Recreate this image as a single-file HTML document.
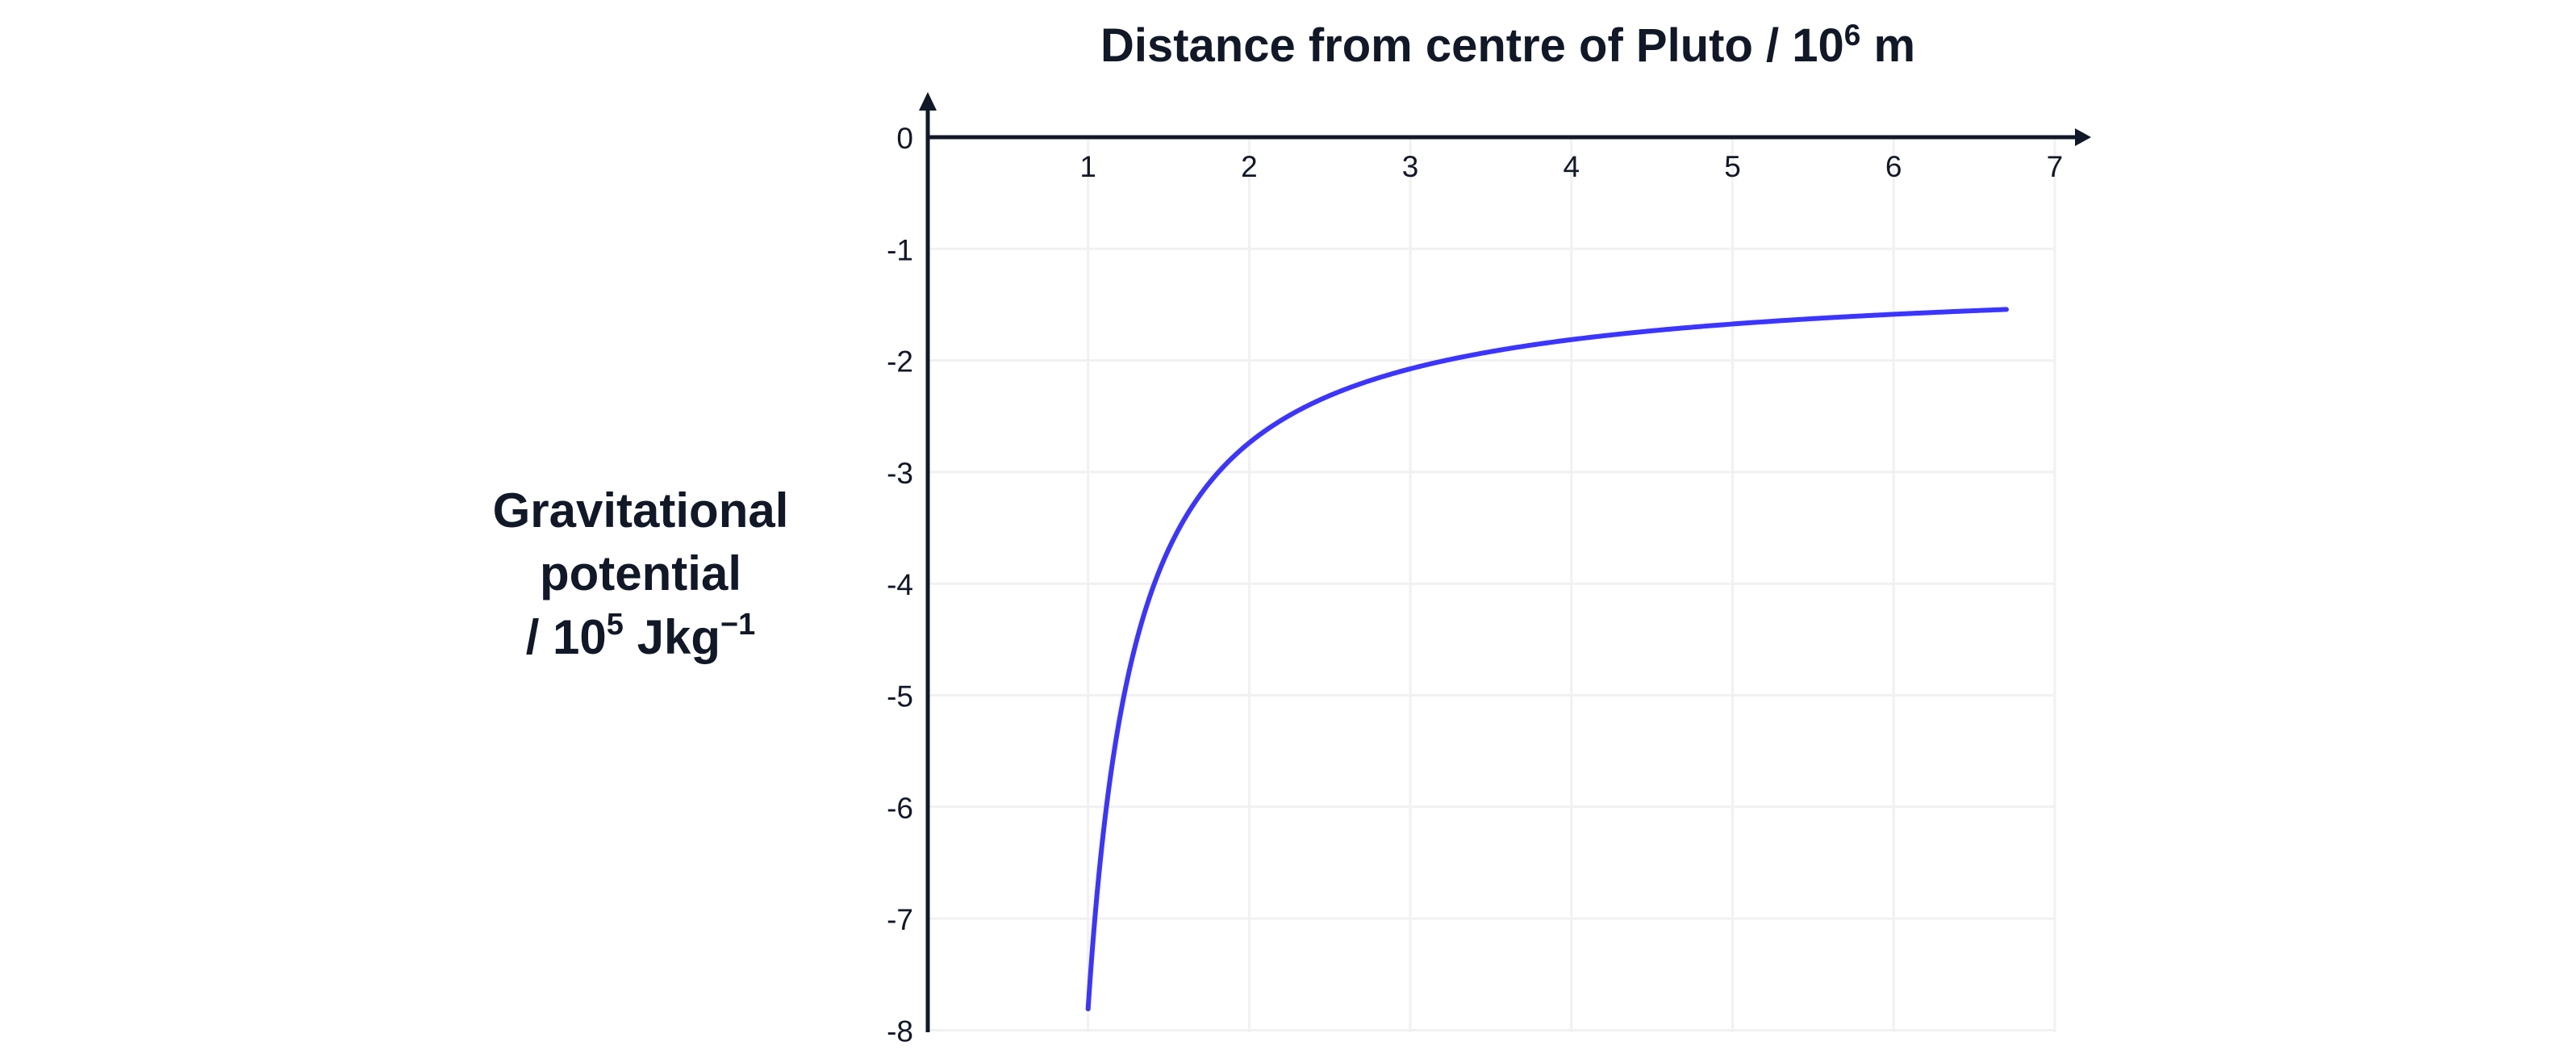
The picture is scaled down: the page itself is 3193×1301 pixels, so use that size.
<!DOCTYPE html>
<html><head><meta charset="utf-8"><style>
html,body{margin:0;padding:0;background:#fff;}
svg{display:block;}
text{font-family:"Liberation Sans",Arial,sans-serif;fill:#111827;}
</style></head><body>
<svg id="s" width="3193" height="1301" viewBox="0 0 3193 1301" xmlns="http://www.w3.org/2000/svg">
<g id="grid" stroke="#f1f1f1" stroke-width="3"></g>
<path id="curve" fill="none" stroke="#3b35ff" stroke-width="6" stroke-linecap="round" stroke-linejoin="round"/>
<line x1="1150" y1="130" x2="1150" y2="1279" stroke="#111827" stroke-width="5"/>
<polygon points="1150,114 1139,137 1161,137" fill="#111827"/>
<line x1="1148" y1="170" x2="2575" y2="170" stroke="#111827" stroke-width="5"/>
<polygon points="2592,170 2572,159 2572,181" fill="#111827"/>
<g id="labels" font-size="37"></g>
<text x="1869" y="76" font-size="58" font-weight="bold" text-anchor="middle">Distance from centre of Pluto / 10<tspan dy="-20" font-size="37">6</tspan><tspan dy="20"> m</tspan></text>
<g font-size="60" font-weight="bold" text-anchor="middle">
<text x="794" y="653">Gravitational</text>
<text x="794" y="731">potential</text>
<text x="794" y="810">/ 10<tspan dy="-24" font-size="38">5</tspan><tspan dy="24"> Jkg</tspan><tspan dy="-24" font-size="38">−1</tspan></text>
</g>
</svg>
<script>
var X=function(r){return 1149+199.7*r}, Y=function(v){return 170+138.3*v};
var g=document.getElementById('grid'), L=document.getElementById('labels'), ns='http://www.w3.org/2000/svg';
function el(p,t,a){var e=document.createElementNS(ns,t);for(var k in a)e.setAttribute(k,a[k]);p.appendChild(e);return e;}
for(var i=1;i<=7;i++){el(g,'line',{x1:X(i),y1:172,x2:X(i),y2:1279});var t=el(L,'text',{x:X(i),y:219,'text-anchor':'middle'});t.textContent=i;}
for(var j=1;j<=8;j++){el(g,'line',{x1:1152,y1:Y(j),x2:X(7),y2:Y(j)});}
for(var j=0;j<=8;j++){var t=el(L,'text',{x:1132,y:Y(j)+14,'text-anchor':'end'});t.textContent=j==0?'0':'-'+j;}
var a=1.986,b=1.212,c=0.699;
function V(r){return b+a/(r-c);}
var d='';
for(var k=0;k<=600;k++){var u=k/600;var r=1+5.7*Math.pow(u,2.2);d+=(k?' L':'M')+X(r).toFixed(2)+','+Y(V(r)).toFixed(2);}
document.getElementById('curve').setAttribute('d',d);
</script>
</body></html>
